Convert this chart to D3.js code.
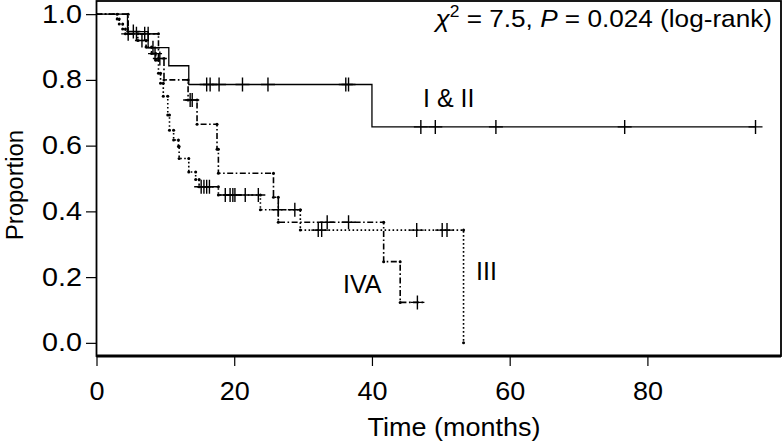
<!DOCTYPE html>
<html><head><meta charset="utf-8">
<script src="https://cdn.jsdelivr.net/npm/d3@7/dist/d3.min.js"></script>
<style>
body{margin:0;background:#fff}
svg{display:block}
text{font-family:"Liberation Sans",Arial,Helvetica,sans-serif;fill:#000}
</style></head>
<body><svg id="c" width="783" height="445"></svg>
<script>
// ---- data (months, proportion) ----
const xTicks = [0, 20, 40, 60, 80];
const yTicks = [0.0, 0.2, 0.4, 0.6, 0.8, 1.0];

// Stage I & II (solid)
const g12Times = [0, 4.5, 7.5, 10.5, 13.4, 40.0];
const g12Surv  = [1.0, 0.947, 0.898, 0.843, 0.786, 0.657];
const g12End = 95.7;
const g12Censor = [5.35, 8.2, 16.0, 16.5, 17.8, 21.2, 24.9, 36.2, 36.6, 47.1, 49.2, 58.0, 76.7, 95.7];

// Stage III (dotted)
const g3Times = [0, 3.0, 3.3, 3.8, 4.2, 6.0, 7.2, 8.0, 8.6, 9.0, 9.3, 9.7, 10.35, 10.6, 11.2, 11.9, 12.0, 13.4, 14.4, 14.9, 17.7, 23.8, 29.6, 53.3];
const g3Surv  = [1.0, 0.985, 0.97, 0.955, 0.94, 0.92, 0.90, 0.88, 0.86, 0.82, 0.79, 0.75, 0.693, 0.647, 0.617, 0.597, 0.561, 0.52, 0.497, 0.475, 0.45, 0.405, 0.343, 0.0];
const g3End = 53.3;
const g3Censor = [4.6, 6.6, 8.5, 15.2, 15.6, 16.0, 16.4, 18.7, 19.4, 19.8, 20.1, 21.6, 23.5, 26.4, 28.8, 32.2, 32.7, 46.5, 50.2, 50.9];

// Stage IVA (dash-dot)
const g4Times = [0, 4.6, 9.0, 9.8, 13.3, 14.6, 17.5, 17.7, 25.7, 26.4, 41.7, 44.1];
const g4Surv  = [1.0, 0.94, 0.865, 0.80, 0.739, 0.665, 0.589, 0.516, 0.443, 0.367, 0.247, 0.123];
const g4End = 47.7;
const g4Censor = [5.8, 7.0, 7.5, 9.2, 13.6, 13.9, 33.5, 36.6, 46.6];

const groupLabels = ["I & II", "III", "IVA"];
const statText = ["\u03C7", "2", " = 7.5, ", "P", " = 0.024 (log-rank)"];

// ---- layout ----
const svg = d3.select("#c");
const x = d3.scaleLinear().domain([0, 99.4]).range([96.5, 781]);
const y = d3.scaleLinear().domain([-0.04, 1.04]).range([356, 1]);
const FS = 25;
const SX = 1.08;

// axes
const ax = svg.append("g").attr("transform", "translate(0,356)")
  .call(d3.axisBottom(x).tickValues(xTicks).tickFormat(d3.format("d")).tickSize(10).tickPadding(16));
const ay = svg.append("g").attr("transform", "translate(96.5,0)")
  .call(d3.axisLeft(y).tickValues(yTicks).tickFormat(d3.format(".1f")).tickSize(10.5).tickPadding(4));
[ax, ay].forEach(a => {
  a.select(".domain").remove();
  a.selectAll(".tick line").attr("stroke", "#000").attr("stroke-width", 1.2);
  a.selectAll(".tick text").attr("font-size", FS).attr("font-family", '"Liberation Sans",Arial,sans-serif').attr("fill", "#000");
});
ax.selectAll(".tick text").attr("transform", `scale(${SX},1)`);
const SY = 1.15;
ay.selectAll(".tick text").attr("x", -14.5 / SY).attr("transform", `scale(${SY},1)`);

// frame
svg.append("rect").attr("x", 96.5).attr("y", 1).attr("width", 781 - 96.5).attr("height", 355)
  .attr("fill", "none").attr("stroke", "#000").attr("stroke-width", 1.8);
svg.append("line").attr("x1", 96.5).attr("x2", 781).attr("y1", 356).attr("y2", 356)
  .attr("stroke", "#000").attr("stroke-width", 3);

// curves
function survAt(times, surv, t) {
  let s = surv[0];
  for (let i = 0; i < times.length; i++) if (times[i] <= t) s = surv[i];
  return s;
}
function drawGroup(times, surv, end, censor, dash, dots) {
  const pts = times.map((t, i) => [t, surv[i]]);
  if (end > times[times.length - 1]) pts.push([end, surv[surv.length - 1]]);
  const line = d3.line().x(d => x(d[0])).y(d => y(d[1])).curve(d3.curveStepAfter);
  svg.append("path").attr("d", line(pts)).attr("fill", "none").attr("stroke", "#000")
    .attr("stroke-width", dash ? 1.6 : 1.3).attr("stroke-dasharray", dash || null);
  if (dots) {
    const v = [];
    for (let i = 1; i < times.length; i++) { v.push([times[i], surv[i - 1]]); v.push([times[i], surv[i]]); }
    svg.append("g").selectAll("circle").data(v).join("circle")
      .attr("cx", d => x(d[0])).attr("cy", d => y(d[1])).attr("r", 1.5).attr("fill", "#000");
  }
  svg.append("g").selectAll("path").data(censor).join("path")
    .attr("d", c => { const cx = x(c), cy = y(survAt(times, surv, c)); return `M${cx - 7},${cy}H${cx + 7}M${cx},${cy - 7}V${cy + 7}`; })
    .attr("stroke", "#000").attr("stroke-width", 1.4).attr("fill", "none");
}
drawGroup(g3Times, g3Surv, g3End, g3Censor, "1.6,2.4", true);
drawGroup(g4Times, g4Surv, g4End, g4Censor, "6,2.5,1.6,2.5", true);
drawGroup(g12Times, g12Surv, g12End, g12Censor, null, false);

// labels
svg.append("text").attr("x", 423).attr("y", 106.5).attr("font-size", FS).text(groupLabels[0]);
svg.append("text").attr("x", 476).attr("y", 280).attr("font-size", FS).text(groupLabels[1]);
svg.append("text").attr("x", 343).attr("y", 293).attr("font-size", FS).text(groupLabels[2]);

const st = svg.append("text").attr("transform", "translate(772,27) scale(1.09,1)")
  .attr("font-size", 24).attr("text-anchor", "end");
st.append("tspan").attr("font-style", "italic").text(statText[0]);
st.append("tspan").attr("font-size", 16).attr("dy", -10).text(statText[1]);
st.append("tspan").attr("dy", 10).text(statText[2]);
st.append("tspan").attr("font-style", "italic").text(statText[3]);
st.append("tspan").text(statText[4]);

svg.append("text").attr("transform", `translate(454,436) scale(${SX},1)`).attr("font-size", FS)
  .attr("text-anchor", "middle").text("Time (months)");
svg.append("text").attr("transform", "translate(23,185) rotate(-90) scale(1.04,1)").attr("font-size", 23)
  .attr("text-anchor", "middle").text("Proportion");
</script></body></html>
